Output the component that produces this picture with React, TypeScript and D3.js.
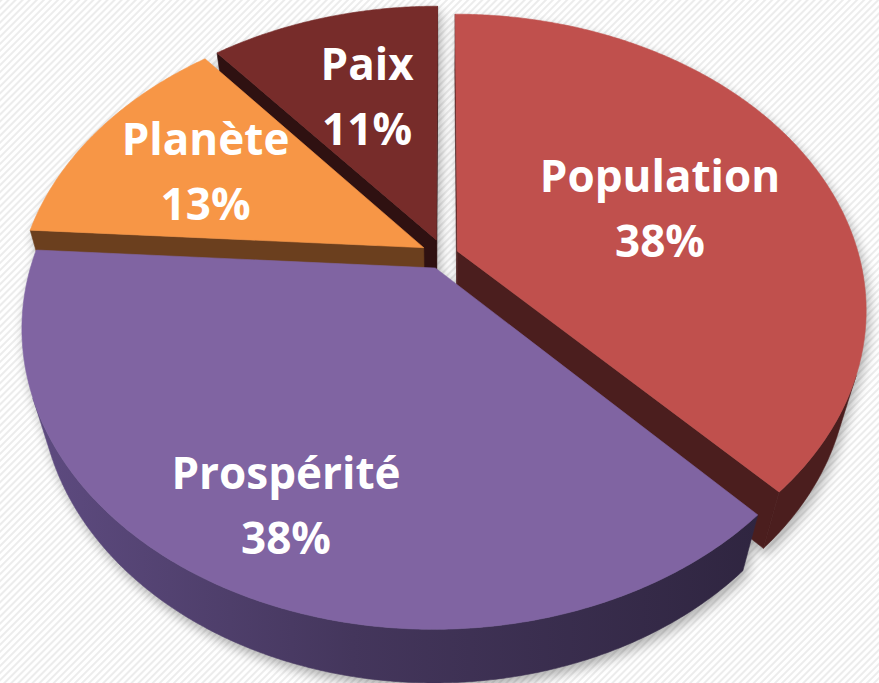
import React, { useEffect, useRef } from 'react';
import * as d3 from 'd3';

// chart data
const categories = ['Population', 'Prospérité', 'Planète', 'Paix'];
const values = [38, 38, 13, 11];
const valueLabels = ['38%', '38%', '13%', '11%'];

// styling
const topColors = ['#c0504d', '#8064a2', '#f79646', '#772c2a'];
const sideColors = ['#4b1e1e', 'url(#side-grad-prosp)', '#6b3f1e', '#2f1111'];
const explode = [0.036, 0.05, 0.057, 0.057];
const labelRadius = [0.544, 0.773, 0.645, 0.601];
const labelTurn = [5.3, -1.2, -0.9, 0.8]; // degrees off the bisector

const WIDTH = 879;
const HEIGHT = 683;
const CX = 444;
const CY = 255;
const PHI = (45.2 * Math.PI) / 180;
const DIST = 3.6;
const FOCAL = 1445;
const DEPTH = 0.215;

type Pt = [number, number];

const project = (x: number, y: number, z: number): Pt => {
  const d = DIST - y * Math.sin(PHI) + z * Math.cos(PHI);
  return [CX + (FOCAL * x) / d, CY - (FOCAL * (y * Math.cos(PHI) + z * Math.sin(PHI))) / d];
};

const signedArea = (pts: Pt[]) => {
  let s = 0;
  for (let i = 0; i < pts.length; i++) {
    const [x1, y1] = pts[i];
    const [x2, y2] = pts[(i + 1) % pts.length];
    s += x1 * y2 - x2 * y1;
  }
  return s / 2;
};

const App: React.FC = () => {
  const svgRef = useRef<SVGSVGElement>(null);

  useEffect(() => {
    const svg = d3.select(svgRef.current);
    svg.selectAll('*').remove();
    svg.attr('width', WIDTH).attr('height', HEIGHT);

    const defs = svg.append('defs');

    const stripes = defs.append('pattern')
      .attr('id', 'stripes')
      .attr('width', 5)
      .attr('height', 5)
      .attr('patternUnits', 'userSpaceOnUse')
      .attr('patternTransform', 'rotate(45)');
    stripes.append('rect').attr('width', 5).attr('height', 5).attr('fill', '#ffffff');
    stripes.append('rect').attr('width', 2).attr('height', 5).attr('fill', '#ececec');

    const grad = defs.append('linearGradient')
      .attr('id', 'side-grad-prosp')
      .attr('gradientUnits', 'userSpaceOnUse')
      .attr('x1', 20).attr('y1', 0).attr('x2', 760).attr('y2', 0);
    grad.append('stop').attr('offset', '0%').attr('stop-color', '#5f4c82');
    grad.append('stop').attr('offset', '45%').attr('stop-color', '#44365c');
    grad.append('stop').attr('offset', '100%').attr('stop-color', '#2f2540');

    const blur = defs.append('filter')
      .attr('id', 'pie-shadow')
      .attr('x', '-20%').attr('y', '-20%')
      .attr('width', '140%').attr('height', '140%');
    blur.append('feGaussianBlur').attr('stdDeviation', 6);

    svg.append('rect')
      .attr('width', WIDTH)
      .attr('height', HEIGHT)
      .attr('fill', 'url(#stripes)');

    const pie = d3.pie<number>().sort(null).value((d) => d);
    const arcs = pie(values);

    const line = d3.line<Pt>().curve(d3.curveLinearClosed);

    // reference orientation: a front rim segment is always visible
    const refSign = Math.sign(signedArea([
      project(Math.sin(Math.PI - 0.01), 0, Math.cos(Math.PI - 0.01)),
      project(Math.sin(Math.PI + 0.01), 0, Math.cos(Math.PI + 0.01)),
      project(Math.sin(Math.PI + 0.01), -DEPTH, Math.cos(Math.PI + 0.01)),
      project(Math.sin(Math.PI - 0.01), -DEPTH, Math.cos(Math.PI - 0.01)),
    ]));

    const slices = arcs.map((a, i) => {
      const mid = (a.startAngle + a.endAngle) / 2;
      const ox = explode[i] * Math.sin(mid);
      const oz = explode[i] * Math.cos(mid);
      const pt = (r: number, t: number, y: number) =>
        project(ox + r * Math.sin(t), y, oz + r * Math.cos(t));

      const n = Math.max(2, Math.ceil((a.endAngle - a.startAngle) / (Math.PI / 360)));
      const angles = d3.range(n + 1).map((k) => a.startAngle + ((a.endAngle - a.startAngle) * k) / n);

      const top: Pt[] = [pt(0, 0, 0), ...angles.map((t) => pt(1, t, 0))];
      const bottom: Pt[] = [pt(0, 0, -DEPTH), ...angles.map((t) => pt(1, t, -DEPTH))];

      const faces: Pt[][] = [];
      const allFaces: Pt[][] = [];
      const cut0: Pt[] = [pt(0, 0, 0), pt(1, a.startAngle, 0), pt(1, a.startAngle, -DEPTH), pt(0, 0, -DEPTH)];
      const cut1: Pt[] = [pt(1, a.endAngle, 0), pt(0, 0, 0), pt(0, 0, -DEPTH), pt(1, a.endAngle, -DEPTH)];
      [cut0, cut1].forEach((f) => {
        allFaces.push(f);
        if (Math.sign(signedArea(f)) === refSign) faces.push(f);
      });

      // outer rim, grouped into visible runs
      let run: number[] = [];
      const flush = () => {
        if (run.length > 1) {
          const tops = run.map((t) => pt(1, t, 0));
          const bots = run.map((t) => pt(1, t, -DEPTH)).reverse();
          faces.push([...tops, ...bots]);
        }
        run = [];
      };
      for (let k = 0; k < angles.length - 1; k++) {
        const t0 = angles[k];
        const t1 = angles[k + 1];
        const seg: Pt[] = [pt(1, t0, 0), pt(1, t1, 0), pt(1, t1, -DEPTH), pt(1, t0, -DEPTH)];
        allFaces.push(seg);
        if (Math.sign(signedArea(seg)) === refSign) {
          if (run.length === 0) run.push(t0);
          run.push(t1);
        } else {
          flush();
        }
      }
      flush();

      const labelAngle = mid + (labelTurn[i] * Math.PI) / 180;
      const labelPos = pt(labelRadius[i], labelAngle, 0);

      return { i, mid, top, bottom, faces, allFaces, labelPos };
    });

    // soft shadow under the pie
    const shadow = svg.append('g')
      .attr('filter', 'url(#pie-shadow)')
      .attr('opacity', 0.3)
      .attr('transform', 'translate(3,6)');
    slices.forEach((s) => {
      [s.top, s.bottom, ...s.allFaces].forEach((f) => {
        shadow.append('path').attr('d', line(f)).attr('fill', '#000');
      });
    });

    // back-to-front
    const order = [...slices].sort((a, b) => Math.cos(b.mid) - Math.cos(a.mid));
    order.forEach((s) => {
      const g = svg.append('g');
      s.faces.forEach((f) => {
        g.append('path')
          .attr('d', line(f))
          .attr('fill', sideColors[s.i])
          .attr('stroke', sideColors[s.i])
          .attr('stroke-width', 0.6)
          .attr('stroke-linejoin', 'round');
      });
      g.append('path')
        .attr('d', line(s.top))
        .attr('fill', topColors[s.i])
        .attr('stroke', topColors[s.i])
        .attr('stroke-width', 0.6)
        .attr('stroke-linejoin', 'round');
    });

    // labels
    const labels = svg.append('g')
      .attr('font-family', '"Open Sans", "Liberation Sans", sans-serif')
      .attr('font-weight', 700)
      .attr('font-size', 44)
      .attr('fill', '#ffffff')
      .attr('text-anchor', 'middle');

    slices.forEach((s) => {
      const [lx, ly] = s.labelPos;
      labels.append('text')
        .attr('x', lx)
        .attr('y', ly - 17)
        .text(categories[s.i]);
      labels.append('text')
        .attr('x', lx)
        .attr('y', ly + 48)
        .text(valueLabels[s.i]);
    });
  }, []);

  return (
    <svg
      ref={svgRef}
      style={{ position: 'absolute', left: 0, top: 0, display: 'block' }}
    />
  );
};

export default App;
